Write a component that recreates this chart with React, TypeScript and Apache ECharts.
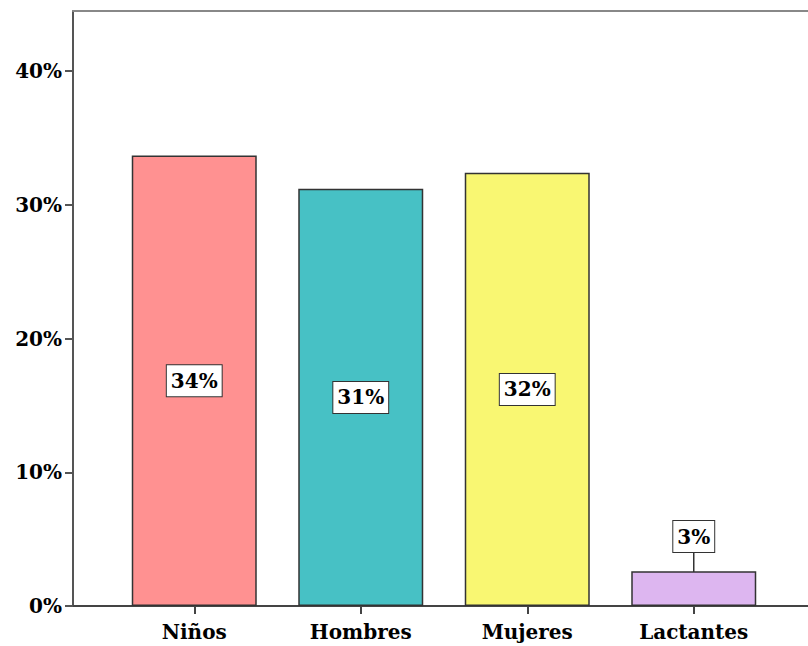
import React, { useEffect, useRef } from "react";
import * as echarts from "echarts";

const categories = ["Niños", "Hombres", "Mujeres", "Lactantes"];
const values = [33.7, 31.2, 32.4, 2.6];
const labels = ["34%", "31%", "32%", "3%"];
const colors = ["#FF9191", "#47C1C5", "#F9F772", "#DDB6F0"];
const yTicks = [0, 10, 20, 30, 40];

const FONT = "'DejaVu Serif', serif";

export default function App() {
  const ref = useRef<HTMLDivElement>(null);
  useEffect(() => {
    if (!ref.current) return;
    const chart = echarts.init(ref.current, undefined, { renderer: "svg" });
    chart.setOption({
      animation: false,
      grid: [
        { left: 111, width: 666, top: 11, bottom: 40 },
        { left: 73, right: 0, top: 11, bottom: 40 },
      ],
      xAxis: [
        {
          type: "category",
          gridIndex: 0,
          data: categories,
          axisLine: { show: false },
          axisTick: { show: true, alignWithLabel: true, length: 8, lineStyle: { color: "#444", width: 2 } },
          axisLabel: { color: "#000", fontFamily: FONT, fontWeight: "bold", fontSize: 20, margin: 16 },
        },
        {
          type: "value",
          gridIndex: 1,
          min: 0,
          max: 1,
          axisLine: { show: true, onZero: false, lineStyle: { color: "#444", width: 2 } },
          axisTick: { show: false },
          axisLabel: { show: false },
          splitLine: { show: false },
        },
        {
          type: "value",
          gridIndex: 1,
          position: "top",
          min: 0,
          max: 1,
          axisLine: { show: true, onZero: false, lineStyle: { color: "#888", width: 2 } },
          axisTick: { show: false },
          axisLabel: { show: false },
          splitLine: { show: false },
        },
      ],
      yAxis: [
        {
          type: "value",
          gridIndex: 0,
          min: 0,
          max: 44.5,
          offset: 38,
          axisLine: { show: true, lineStyle: { color: "#555", width: 2 } },
          axisTick: { show: true, length: 8, customValues: yTicks, lineStyle: { color: "#555", width: 2 } },
          axisLabel: {
            color: "#000",
            fontFamily: FONT,
            fontWeight: "bold",
            fontSize: 20,
            margin: 11,
            customValues: yTicks,
            formatter: (v: number) => v + "%",
          },
          splitLine: { show: false },
        },
        {
          type: "value",
          gridIndex: 1,
          show: false,
        },
      ],
      series: [
        {
          type: "bar",
          xAxisIndex: 0,
          yAxisIndex: 0,
          barWidth: 125,
          data: values.map((v, i) => ({
            value: v,
            itemStyle: { color: colors[i], borderColor: "#333", borderWidth: 1.5 },
          })),
          label: {
            show: true,
            position: "inside",
            offset: [0, 3],
            formatter: (p: any) => labels[p.dataIndex],
            color: "#000",
            fontFamily: FONT,
            fontWeight: "bold",
            fontSize: 20,
            lineHeight: 24,
            backgroundColor: "#fff",
            borderColor: "#333",
            borderWidth: 1,
            padding: [4, 4, 3, 4],
          },
          labelLayout: (p: any) => (p.dataIndex === 3 ? { dy: -52 } : {}),
          labelLine: { show: true, lineStyle: { color: "#333", width: 1.5 } },
        },
      ],
    });
    return () => chart.dispose();
  }, []);
  return (
    <div
      ref={ref}
      style={{ position: "absolute", left: 0, top: 0, width: 808, height: 646 }}
    />
  );
}
